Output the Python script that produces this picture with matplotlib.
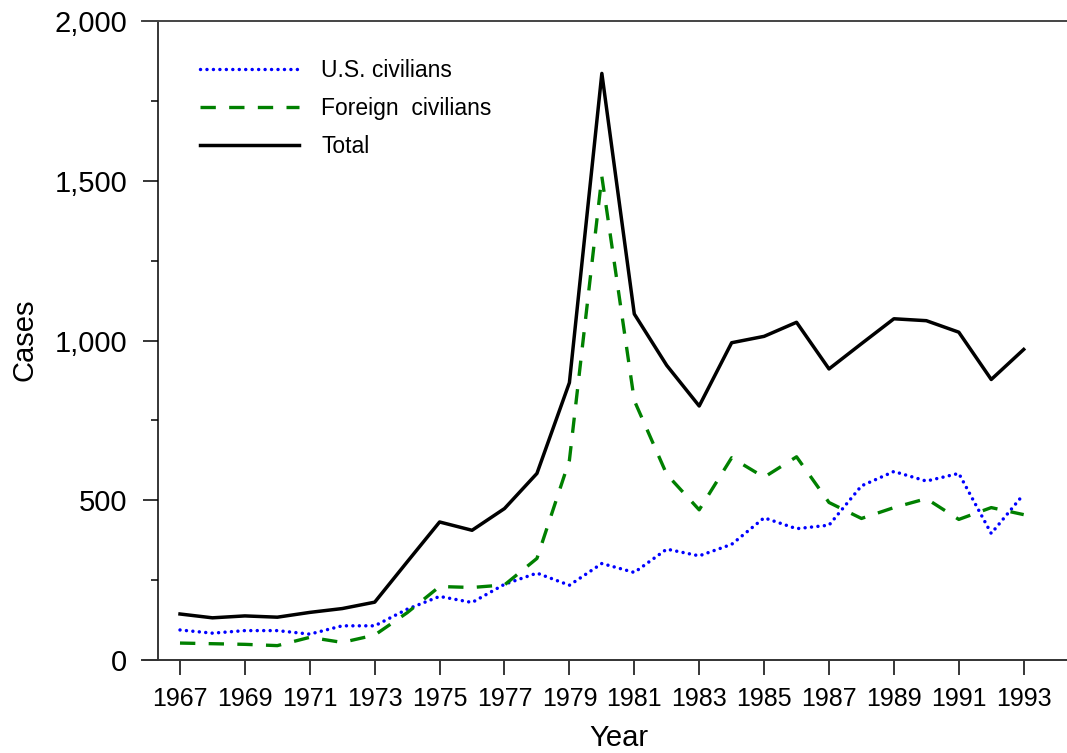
import numpy as np
import matplotlib
matplotlib.use("Agg")
import matplotlib.pyplot as plt

# data
years = list(range(1967, 1994))
us_civilians = [94, 84, 92, 92, 81, 107, 107, 159, 199, 180, 237, 272, 234, 302,
                274, 347, 326, 362, 445, 411, 422, 545, 590, 560, 584, 396, 519]
foreign_civilians = [53, 51, 49, 45, 71, 55, 78, 148, 230, 227, 235, 318, 625, 1513,
                     812, 581, 470, 633, 572, 636, 493, 443, 477, 505, 440, 477, 455]
total = [144, 132, 138, 134, 149, 161, 181, 307, 432, 406, 474, 584, 868, 1836,
         1083, 922, 795, 993, 1013, 1057, 911, 990, 1068, 1062, 1026, 878, 972]
x_ticks = list(range(1967, 1994, 2))
y_ticks = [0, 500, 1000, 1500, 2000]
y_ticklabels = ["0", "500", "1,000", "1,500", "2,000"]

plt.rcParams["font.family"] = ["Liberation Sans", "DejaVu Sans"]

W, H = 1067, 753
fig = plt.figure(figsize=(W / 100, H / 100), dpi=100)

# axes box in pixels: left 142, right 1080 (past the edge), top 21, bottom 660
ax = fig.add_axes([142 / W, (H - 660) / H, 938 / W, 639 / H])

ax.plot(years, us_civilians, color="#0000FF", lw=2.5, linestyle=(0, (0.01, 1.85)),
        dash_capstyle="round", label="U.S. civilians")
ax.plot(years, foreign_civilians, color="#008000", lw=2.4, linestyle=(0, (4.6, 4.0)),
        label="Foreign  civilians")
ax.plot(years, total, color="black", lw=2.5, label="Total")

ax.set_xlim(1965.829, 1994.735)
ax.set_ylim(0, 2000)

# spines
ax.spines["right"].set_visible(False)
ax.spines["left"].set_position(("axes", 15.5 / 938))
ax.spines["left"].set_linewidth(1.1)
ax.spines["bottom"].set_linewidth(1.4)
ax.spines["bottom"].set_color("#333333")
ax.spines["top"].set_linewidth(1.4)
ax.spines["top"].set_color("#444444")

# ticks
ax.set_xticks(x_ticks)
ax.set_xticklabels([str(y) for y in x_ticks], fontsize=18)
ax.set_yticks(y_ticks)
ax.set_yticklabels(y_ticklabels, fontsize=21)
ax.set_yticks(np.arange(250, 2000, 500), minor=True)
ax.tick_params(axis="x", direction="out", length=10.8, width=1.1, pad=9)
ax.tick_params(axis="y", which="major", direction="out", length=10.8, width=1.1, pad=11)
ax.tick_params(axis="y", which="minor", direction="out", length=5.4, width=1.1)
ax.tick_params(axis="x", which="minor", bottom=False)

# axis titles
fig.text(24 / W, (H - 340) / H, "Cases", rotation=90, ha="center", va="center",
         fontsize=21)
fig.text(619 / W, 1 / H, "Year", ha="center", va="bottom", fontsize=21)

leg = ax.legend(loc="upper left", bbox_to_anchor=(200 / W, (H - 59) / H),
                bbox_transform=fig.transFigure, frameon=False, fontsize=16.5,
                handlelength=4.3, handletextpad=1.0, labelspacing=0.66,
                borderpad=0, borderaxespad=0)

fig.savefig("out.png", dpi=100)
